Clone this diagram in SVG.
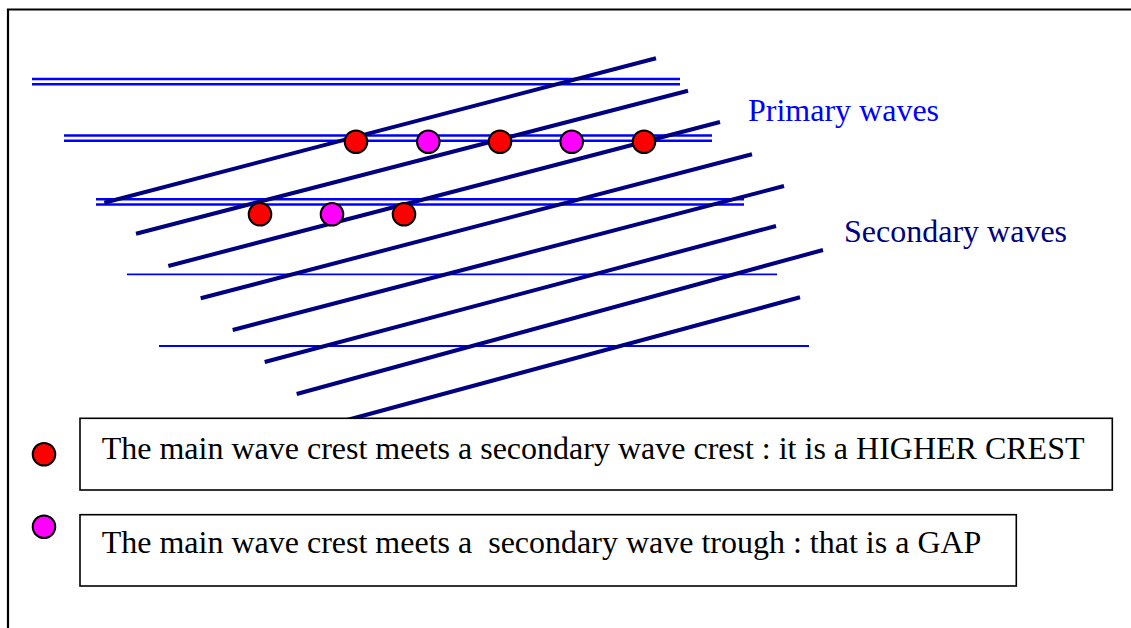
<svg xmlns="http://www.w3.org/2000/svg" width="1131" height="628" viewBox="0 0 1131 628">
<style>
.pw{stroke:#0000FF;stroke-width:2.5;fill:none}
.pw1{stroke:#0000FF;stroke-width:1.8;fill:none}
.sw{stroke:#000080;stroke-width:4;fill:none}
.red{fill:#FF0000;stroke:#000;stroke-width:2}
.mag{fill:#FF00FF;stroke:#000;stroke-width:2}
.box{fill:#fff;stroke:#000;stroke-width:1.6}
.t{font-family:"Liberation Serif","Times New Roman",serif;font-size:32px}
</style>
<rect width="1131" height="628" fill="#fff"/>
<path d="M8,628 V9.5 H1131" fill="none" stroke="#000" stroke-width="2.2"/>
<g id="primary-waves">
<line class="pw" x1="32" y1="79" x2="680" y2="79"/>
<line class="pw" x1="32" y1="84.2" x2="680" y2="84.2"/>
<line class="pw" x1="64" y1="135.5" x2="712" y2="135.5"/>
<line class="pw" x1="64" y1="140.7" x2="712" y2="140.7"/>
<line class="pw" x1="96" y1="199.3" x2="744" y2="199.3"/>
<line class="pw" x1="96" y1="204.5" x2="744" y2="204.5"/>
<line class="pw1" x1="127" y1="274.3" x2="777" y2="274.3"/>
<line class="pw1" x1="159" y1="346" x2="809" y2="346"/>
</g>
<g id="secondary-waves">
<line class="sw" x1="104.3" y1="202.7" x2="656" y2="58.3"/>
<line class="sw" x1="136" y1="233.7" x2="688" y2="90.7"/>
<line class="sw" x1="168.3" y1="266" x2="720" y2="122"/>
<line class="sw" x1="200.7" y1="298.3" x2="752" y2="154.3"/>
<line class="sw" x1="232.7" y1="330" x2="784" y2="186"/>
<line class="sw" x1="264.7" y1="362" x2="776" y2="226"/>
<line class="sw" x1="296.7" y1="394" x2="823" y2="250"/>
<line class="sw" x1="328.7" y1="425" x2="800" y2="297.3"/>
</g>
<g id="meeting-points">
<circle class="red" cx="356" cy="141.7" r="11.3"/>
<circle class="mag" cx="428.3" cy="141.7" r="11.3"/>
<circle class="red" cx="500" cy="141.7" r="11.3"/>
<circle class="mag" cx="571.7" cy="141.7" r="11.3"/>
<circle class="red" cx="644" cy="141.7" r="11.3"/>
<circle class="red" cx="260" cy="214.3" r="11.3"/>
<circle class="mag" cx="332" cy="214.3" r="11.3"/>
<circle class="red" cx="404" cy="214.3" r="11.3"/>
</g>
<g id="label-primary">
<text class="t" x="748" y="120.7" fill="#0000FF">Primary waves</text>
</g>
<g id="label-secondary">
<text class="t" x="844" y="242.3" fill="#000080">Secondary waves</text>
</g>
<g id="legend-crest">
<circle class="red" cx="44" cy="454.3" r="11.3"/>
<rect class="box" x="80" y="418.3" width="1032.3" height="71.7"/>
<text class="t" x="101.7" y="459.3" fill="#000">The main wave crest meets a secondary wave crest : it is a HIGHER CREST</text>
</g>
<g id="legend-gap">
<circle class="mag" cx="44" cy="526.7" r="11.3"/>
<rect class="box" x="80" y="514.7" width="936.3" height="71.3"/>
<text class="t" x="101.7" y="553.3" fill="#000" xml:space="preserve">The main wave crest meets a  secondary wave trough : that is a GAP</text>
</g>
</svg>
